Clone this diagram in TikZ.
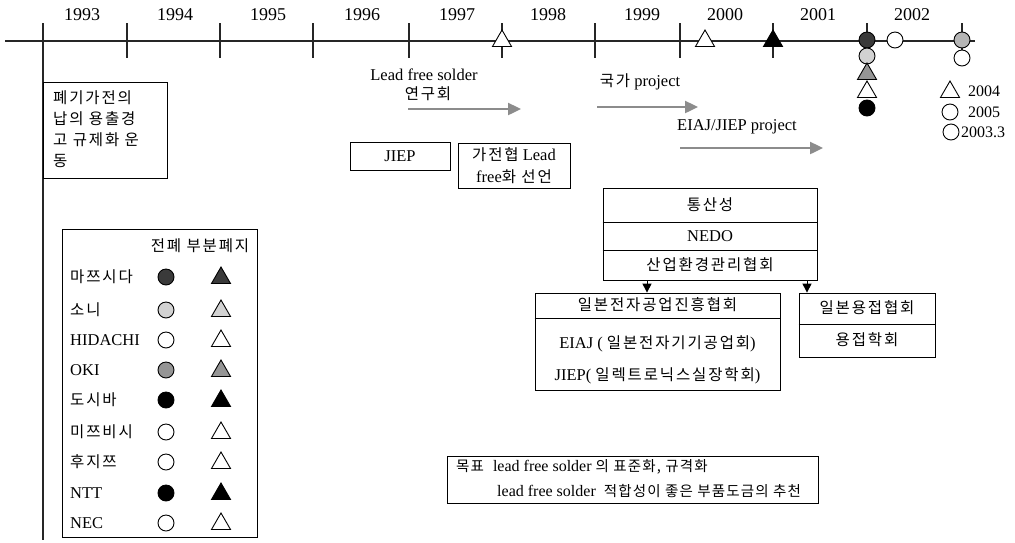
\documentclass[tikz,border=0pt]{standalone}
\usepackage{fontspec}
\setmainfont{Liberation Serif}
\newfontfamily\krfont[LetterSpace=12]{Noto Sans CJK KR}
\newfontfamily\krfontS[LetterSpace=8]{Noto Sans CJK KR}
\newcommand{\kor}[1]{{\krfont\fontsize{15.5}{19}\selectfont #1}}
\newcommand{\korS}[1]{{\krfontS\fontsize{14.5}{17}\selectfont #1}}
\usetikzlibrary{shapes.geometric,arrows.meta}
\definecolor{mdark}{HTML}{3A3A3A}
\definecolor{mlight}{HTML}{D2D2D2}
\definecolor{mmid}{HTML}{959595}
\tikzset{
 lat/.style={font=\fontsize{16.5}{22}\selectfont, inner sep=0pt},
 yr/.style={font=\fontsize{18}{20}\selectfont, inner sep=0pt},
 sm/.style={font=\fontsize{16}{20}\selectfont, inner sep=0pt},
 box/.style={draw, line width=0.8pt, inner sep=0pt},
 tl/.style={line width=2.8pt, draw=black!85},
 tk/.style={line width=2.2pt, draw=black!85},
 garrow/.style={line width=2.4pt, draw=black!45, -{Triangle[length=13pt,width=12pt,fill=black!45]}},
 darrow/.style={line width=1pt, -{Triangle[length=9pt,width=9pt]}},
 circ/.style={circle, draw, line width=0.9pt, minimum size=16pt, inner sep=0pt},
 tri/.style={regular polygon, regular polygon sides=3, draw, line width=0.9pt, minimum size=22pt, inner sep=0pt},
 divl/.style={line width=0.8pt},
}
\begin{document}
\begin{tikzpicture}[x=1pt,y=-1pt]
\useasboundingbox[fill=white] (0,0) rectangle (1015,542);

% timeline
\coordinate (tlA) at (5,41);
\coordinate (tlB) at (975,41);
\draw[tl] (tlA) -- (tlB);
\foreach \x in {43,127,220,313,409,502,595,680,773,867,962}
  \draw[tk] (\x,23) -- (\x,58);
\draw[tl] (43,23) -- (43,540);

\foreach \x/\t in {82/1993,175/1994,268/1995,362/1996,457/1997,548/1998,642/1999,725/2000,818/2001,912/2002}
  \node[yr] (y\t) at (\x,15) {\t};

% timeline markers
\node[tri, fill=white] (m1) at (502,41) {};
\node[tri, fill=white] (m2) at (705,41) {};
\node[tri, fill=black] (m3) at (773,41) {};
\node[circ, fill=mdark] (m4) at (867,40) {};
\node[circ, fill=mlight] (m5) at (867,56) {};
\node[tri, fill=mmid] (m6) at (867,74) {};
\node[tri, fill=white] (m7) at (867,92) {};
\node[circ, fill=black] (m8) at (867,108) {};
\node[circ, fill=white] (m9) at (895,40) {};
\node[circ, fill=mmid!70] (m10) at (962,40) {};
\node[circ, fill=white] (m11) at (962,58) {};

% right legend
\node[tri, fill=white] (k1) at (950,92) {};
\node[circ, fill=white] (k2) at (950,112) {};
\node[circ, fill=white] (k3) at (951,132) {};
\node[sm, anchor=west] (k1t) at (968,91) {2004};
\node[sm, anchor=west] (k2t) at (968,112) {2005};
\node[sm, anchor=west] (k3t) at (961,132) {2003.3};

% left note box
\node[box, minimum width=124pt, minimum height=96pt] (note) at (105,130) {};
\node[inner sep=0pt, anchor=north west, align=left, font=\krfont\fontsize{15.5}{21}\selectfont] (notet) at (53,90)
  {폐기가전의\\납의 용출경\\고 규제화 운\\동};

% arrows and labels
\node[lat] (lfs) at (424,75) {Lead free solder};
\node[lat] (lfs2) at (428,94) {\kor{연구회}};
\coordinate (a1s) at (408,109);
\coordinate (a1e) at (521,109);
\draw[garrow] (a1s) -- (a1e);

\node[lat] (kp) at (640,82) {\kor{국가} project};
\coordinate (a2s) at (597,107);
\coordinate (a2e) at (698,107);
\draw[garrow] (a2s) -- (a2e);

\node[lat] (ejp) at (737,127) {EIAJ/JIEP project};
\coordinate (a3s) at (680,148);
\coordinate (a3e) at (823,148);
\draw[garrow] (a3s) -- (a3e);

% JIEP and declaration boxes
\node[box, lat, minimum width=100pt, minimum height=28pt] (jiep) at (400,156) {JIEP};
\node[box, lat, minimum width=112pt, minimum height=45pt, align=center] (decl) at (514,165.5)
  {\kor{가전협} Lead\\free\kor{화 선언}};

% stacked government box
\node[box, minimum width=214pt, minimum height=92pt] (gov) at (710,234) {};
\draw[divl] (gov.west |- 0,222) -- (gov.east |- 0,222);
\draw[divl] (gov.west |- 0,250) -- (gov.east |- 0,250);
\node[lat] (g1) at (710,205) {\kor{통산성}};
\node[lat] (g2) at (710,236) {NEDO};
\node[lat] (g3) at (710,265) {\kor{산업환경관리협회}};

% lower boxes
\node[box, minimum width=245pt, minimum height=97pt] (jeia) at (657.5,341.5) {};
\draw[divl] (jeia.west |- 0,318) -- (jeia.east |- 0,318);
\node[lat] (j1) at (657.5,305) {\kor{일본전자공업진흥협회}};
\node[lat] (j2) at (657.5,344) {EIAJ ( \kor{일본전자기기공업회})};
\node[lat] (j3) at (657.5,376) {JIEP( \kor{일렉트로닉스실장학회})};

\node[box, minimum width=136pt, minimum height=64pt] (weld) at (867,325) {};
\draw[divl] (weld.west |- 0,324) -- (weld.east |- 0,324);
\node[lat] (w1) at (867,308) {\kor{일본용접협회}};
\node[lat] (w2) at (867,340) {\kor{용접학회}};

\draw[darrow] ([xshift=-63pt]gov.south) coordinate (d1s) -- (d1s |- jeia.north);
\draw[darrow] ([xshift=97pt]gov.south) coordinate (d2s) -- (d2s |- weld.north);

% company legend
\node[box, minimum width=195pt, minimum height=308pt] (leg) at (159.5,383) {};
\node[lat] (legt) at (200,246) {\kor{전폐 부분폐지}};
\foreach \n/\y/\t/\c in {1/277/{\kor{마쯔시다}}/mdark, 2/310/{\kor{소니}}/mlight, 3/340/HIDACHI/white, 4/370/OKI/mmid, 5/400/{\kor{도시바}}/black, 6/432/{\kor{미쯔비시}}/white, 7/462/{\kor{후지쯔}}/white, 8/493/NTT/black, 9/523/NEC/white}{
  \node[lat, anchor=west] (c\n) at (70,\y) {\t};
  \node[circ, fill=\c] (cc\n) at (166,\y) {};
  \node[tri, fill=\c] (ct\n) at (221,\y+1) {};
}

% goal box
\node[box, minimum width=371pt, minimum height=47pt] (goal) at (632.5,479.5) {};
\node[sm, anchor=west] (goal1) at (456,467) {\korS{목표}\hspace{9pt}lead free solder \korS{의 표준화, 규격화}};
\node[sm, anchor=west] (goal2) at (497,491) {lead free solder\hspace{8pt}\korS{적합성이 좋은 부품도금의 추천}};
\end{tikzpicture}
\end{document}
